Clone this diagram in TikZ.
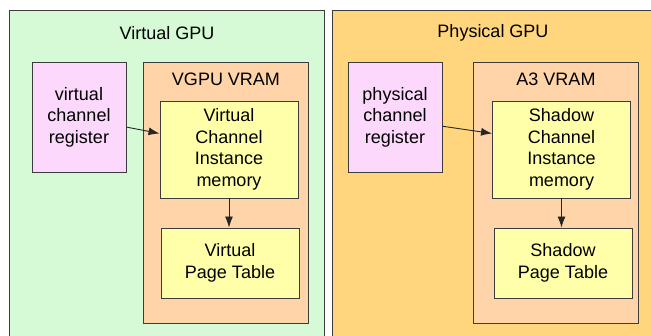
\documentclass[tikz,border=0pt]{standalone}
\usepackage{fontspec}
\setmainfont{Liberation Sans}
\usetikzlibrary{arrows.meta}
\definecolor{gpugreen}{RGB}{213,250,213}
\definecolor{gpuorange}{RGB}{255,213,125}
\definecolor{vramfill}{RGB}{255,212,168}
\definecolor{memfill}{RGB}{255,255,170}
\definecolor{regfill}{RGB}{253,216,253}
\definecolor{edgegray}{RGB}{60,60,60}
\tikzset{
  box/.style={draw=edgegray,line width=0.9pt,inner sep=0pt},
  reg/.style={box,fill=regfill,minimum width=94pt,minimum height=110pt,align=center},
  mem/.style={box,fill=memfill,minimum width=138pt,align=center},
  link/.style={->,line width=0.9pt,draw=black!85},
}

\begin{document}
\begin{tikzpicture}[>={Latex[length=11pt,width=8pt]},x=1pt,y=-1pt,font=\fontsize{18}{21.5}\selectfont]
        \useasboundingbox(0,0)rectangle(651,336);
        \clip(0,0)rectangle(651,336);
        \fill[white](0,0)rectangle(651,336);
        % the two GPUs
        \draw[box,fill=gpugreen](9,10)rectangle(324,345);
        \draw[box,fill=gpuorange](332,10)rectangle(660,345);
        \node(vgpu)at(167,33){Virtual GPU};
        \node(pgpu)at(493,33){Physical GPU};
        \draw[box,fill=vramfill](143,62)rectangle(308,323);
        \draw[box,fill=vramfill](473,62)rectangle(638,323);
        \node(vvram)at(226,79){VGPU VRAM};
        \node(avram)at(556,79){A3 VRAM};
        % virtual side
        \node[reg](vreg)at(79,117){virtual\\channel\\register};
        \node[mem,minimum height=97pt](vcim)at(229,149.5){Virtual\\Channel\\Instance\\memory};
        \node[mem,minimum height=70pt](vpt)at(230,263){Virtual\\Page Table};
        \draw[link](vreg.-12)--(vcim.167);
        \draw[link](vcim.south)--(vcim.south|-vpt.north);
        % physical side
        \node[reg](preg)at(395,117){physical\\channel\\register};
        \node[mem,minimum height=97pt](scim)at(561.5,149.5){Shadow\\Channel\\Instance\\memory};
        \node[mem,minimum height=70pt](spt)at(563,263){Shadow\\Page Table};
        \draw[link](preg.-11)--(scim.167);
        \draw[link](scim.south)--(scim.south|-spt.north);
    \end{tikzpicture}
\end{document}
